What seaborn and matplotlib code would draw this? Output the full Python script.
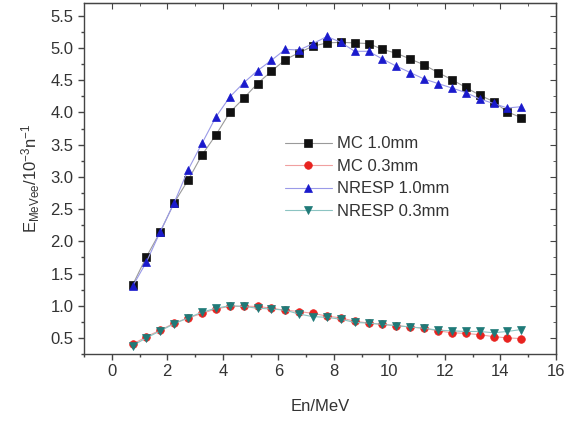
import numpy as np
import pandas as pd
import matplotlib
matplotlib.use("Agg")
import matplotlib.pyplot as plt
import seaborn as sns
from matplotlib.ticker import MultipleLocator

# data
energy = [0.75, 1.25, 1.75, 2.25, 2.75, 3.25, 3.75, 4.25, 4.75, 5.25,
          5.75, 6.25, 6.75, 7.25, 7.75, 8.25, 8.75, 9.25, 9.75, 10.25,
          10.75, 11.25, 11.75, 12.25, 12.75, 13.25, 13.75, 14.25, 14.75]

mc_10 = [1.32, 1.76, 2.15, 2.60, 2.95, 3.34, 3.65, 4.00, 4.22, 4.45,
         4.64, 4.82, 4.93, 5.03, 5.08, 5.09, 5.08, 5.07, 4.98, 4.92,
         4.83, 4.74, 4.62, 4.51, 4.39, 4.27, 4.17, 4.01, 3.92]

mc_03 = [0.40, 0.52, 0.62, 0.73, 0.81, 0.88, 0.95, 0.99, 0.99, 0.99,
         0.96, 0.93, 0.91, 0.88, 0.84, 0.81, 0.76, 0.73, 0.71, 0.69,
         0.67, 0.65, 0.61, 0.58, 0.57, 0.55, 0.52, 0.50, 0.49]

nresp_10 = [1.30, 1.68, 2.15, 2.60, 3.11, 3.52, 3.93, 4.24, 4.46, 4.65,
            4.81, 4.98, 4.97, 5.07, 5.18, 5.09, 4.95, 4.95, 4.83, 4.72,
            4.62, 4.52, 4.45, 4.38, 4.31, 4.21, 4.14, 4.07, 4.09]

nresp_03 = [0.38, 0.50, 0.61, 0.72, 0.81, 0.90, 0.96, 1.00, 0.99, 0.96,
            0.95, 0.93, 0.87, 0.83, 0.82, 0.79, 0.74, 0.73, 0.71, 0.69,
            0.67, 0.65, 0.62, 0.61, 0.60, 0.60, 0.58, 0.60, 0.63]

labels = ["MC 1.0mm", "MC 0.3mm", "NRESP 1.0mm", "NRESP 0.3mm"]
series = [mc_10, mc_03, nresp_10, nresp_03]
colors = ["#111111", "#e8231f", "#1a1acc", "#1f7a78"]
line_colors = ["#9a9a9a", "#f0a0a0", "#9a9ae8", "#8cc4c2"]
markers = ["s", "o", "^", "v"]

sns.set_style("ticks")
plt.rcParams["font.family"] = ["Liberation Sans", "DejaVu Sans"]
plt.rcParams["mathtext.fontset"] = "custom"
plt.rcParams["mathtext.rm"] = "Liberation Sans"
plt.rcParams["mathtext.it"] = "Liberation Sans"

fig = plt.figure(figsize=(5.74, 4.23), dpi=100)
ax = fig.add_axes([0.1463, 0.1631, 0.8223, 0.8298])

for lab, vals, c, lc, m in zip(labels, series, colors, line_colors, markers):
    df = pd.DataFrame({"En": energy, "E": vals})
    sns.lineplot(data=df, x="En", y="E", ax=ax, color=lc, marker=m,
                 markerfacecolor=c, markeredgecolor=c, markersize=5.5,
                 markeredgewidth=0.5, linewidth=0.8, label=lab)

ax.set_xlim(-1, 16)
ax.set_ylim(0.25, 5.7)
ax.xaxis.set_major_locator(MultipleLocator(2))
ax.xaxis.set_minor_locator(MultipleLocator(1))
ax.yaxis.set_major_locator(MultipleLocator(0.5))
ax.yaxis.set_minor_locator(MultipleLocator(0.25))

txt = "#333333"
ax.tick_params(which="both", direction="out", colors="#444444",
               labelcolor=txt, labelsize=12, width=1)
ax.tick_params(which="major", length=4)
ax.tick_params(which="minor", length=2.5)
for s in ax.spines.values():
    s.set_color("#444444")
    s.set_linewidth(1)

# mirrored inward ticks on top and right
top = ax.secondary_xaxis("top")
top.xaxis.set_major_locator(MultipleLocator(2))
top.xaxis.set_minor_locator(MultipleLocator(1))
top.tick_params(which="both", direction="in", labeltop=False, colors="#444444")
top.tick_params(which="major", length=4)
top.tick_params(which="minor", length=2.5)
right = ax.secondary_yaxis("right")
right.yaxis.set_major_locator(MultipleLocator(0.5))
right.yaxis.set_minor_locator(MultipleLocator(0.25))
right.tick_params(which="both", direction="in", labelright=False, colors="#444444")
right.tick_params(which="major", length=4)
right.tick_params(which="minor", length=2.5)

ax.set_xlabel("En/MeV", fontsize=12, color=txt, labelpad=14)
ax.set_ylabel(r"E$_{MeVee}$/10$^{-3}$n$^{-1}$", fontsize=12, color=txt,
              labelpad=6)

ax.legend(loc="upper left", bbox_to_anchor=(0.426, 0.62), frameon=False,
          fontsize=12, labelcolor=txt, handlelength=2.8, handletextpad=0.3,
          labelspacing=0.45, borderpad=0, borderaxespad=0)

fig.savefig("out.png", dpi=100)
